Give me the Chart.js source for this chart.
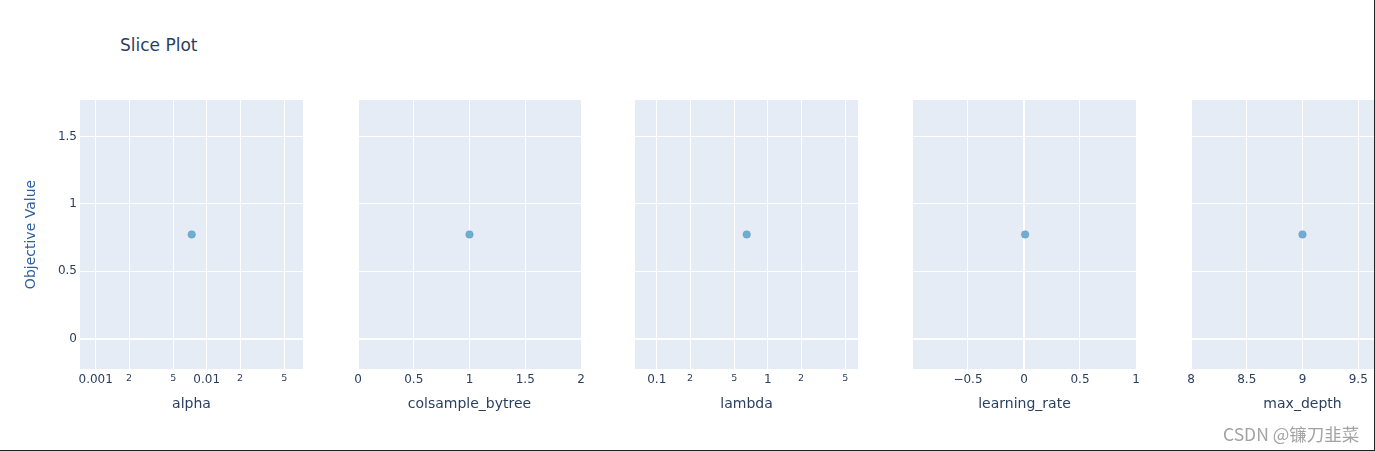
<!DOCTYPE html>
<html>
<head>
<meta charset="utf-8">
<script src="https://cdn.jsdelivr.net/npm/chart.js@4.4.1/dist/chart.umd.min.js"></script>
<style>
  html, body { margin: 0; padding: 0; background: #fff; overflow: hidden; }
  #page { position: relative; width: 1375px; height: 451px; overflow: hidden; background: #fff; }
  #page canvas { position: absolute; top: 90px; }
  #title { position: absolute; left: 120px; top: 35px; font-family: "DejaVu Sans"; font-size: 17px; line-height: 20px; color: #2a3f5f; white-space: nowrap; }
  #mark { position: absolute; left: 1223px; top: 423px; font-family: "Noto Sans CJK SC"; font-size: 17.5px; line-height: 22px; color: #a3a3a3; white-space: nowrap; }
  #frame { position: absolute; left: 0; top: 0; width: 1374px; height: 450px; border-right: 1px solid #222; border-bottom: 1px solid #222; pointer-events: none; }
</style>
</head>
<body>
<div id="page">
  <div id="title">Slice Plot</div>
  <canvas id="slice0"></canvas>
  <canvas id="slice1"></canvas>
  <canvas id="slice2"></canvas>
  <canvas id="slice3"></canvas>
  <canvas id="slice4"></canvas>
  <div id="mark">CSDN @镰刀韭菜</div>
  <div id="frame"></div>
</div>
<script>
// one trial, one point per parameter
const paramNames = ["alpha", "colsample_bytree", "lambda", "learning_rate", "max_depth"];
const paramValues = [0.00733, 1.0, 0.647, 0.01, 9];
const objectiveValue = 0.773;

const axisTypes = ["logarithmic", "linear", "logarithmic", "linear", "linear"];
const xMins = [0.000722, 0, 0.0637, -0.991, 8];
const xMaxs = [0.0738, 2, 6.51, 1.0, 10];

const xTickValues = [
  [0.001, 0.002, 0.005, 0.01, 0.02, 0.05],
  [0, 0.5, 1, 1.5, 2],
  [0.1, 0.2, 0.5, 1, 2, 5],
  [-0.5, 0, 0.5, 1],
  [8, 8.5, 9, 9.5, 10]
];
const xTickLabels = [
  ["0.001", "2", "5", "0.01", "2", "5"],
  ["0", "0.5", "1", "1.5", "2"],
  ["0.1", "2", "5", "1", "2", "5"],
  ["\u22120.5", "0", "0.5", "1"],
  ["8", "8.5", "9", "9.5", "10"]
];

const yTickValues = [0, 0.5, 1, 1.5];
const yTickLabels = ["0", "0.5", "1", "1.5"];
const yMin = -0.225;
const yMax = 1.77;

const FONT = "DejaVu Sans";
const TEXT_COLOR = "#2a3f5f";
const plotLefts = [80, 358, 635, 913, 1191];
const plotWidth = 223;

const plotBackground = {
  id: "plotBackground",
  beforeDraw(chart) {
    const { ctx, chartArea: a } = chart;
    ctx.save();
    ctx.fillStyle = "#e5ecf6";
    ctx.fillRect(a.left, a.top, a.right - a.left, a.bottom - a.top);
    ctx.restore();
  }
};

function isDecade(v) {
  const l = Math.log10(v);
  return Math.abs(l - Math.round(l)) < 1e-9;
}

function renderSlice(i) {
  const canvas = document.getElementById("slice" + i);
  const first = i === 0;
  const yWidth = first ? 80 : 0;
  const padLeft = first ? 0 : 20;
  const padRight = 20;

  canvas.width = padLeft + yWidth + plotWidth + padRight;
  canvas.height = 335;
  canvas.style.left = (plotLefts[i] - yWidth - padLeft) + "px";

  const isLog = axisTypes[i] === "logarithmic";

  new Chart(canvas, {
    type: "scatter",
    data: {
      datasets: [{
        data: [{ x: paramValues[i], y: objectiveValue }],
        backgroundColor: "#6baed6",
        borderColor: "rgba(128, 128, 128, 0.7)",
        borderWidth: 0.5,
        pointRadius: 3.8,
        pointHoverRadius: 3.8
      }]
    },
    options: {
      responsive: false,
      animation: false,
      devicePixelRatio: 1,
      layout: { padding: { top: 10, bottom: 0, left: padLeft, right: padRight } },
      plugins: {
        legend: { display: false },
        tooltip: { enabled: false }
      },
      scales: {
        x: {
          type: axisTypes[i],
          min: xMins[i],
          max: xMaxs[i],
          border: { display: false },
          grid: {
            color: "#ffffff",
            drawTicks: false,
            lineWidth: ctx => (!isLog && ctx.tick && ctx.tick.value === 0) ? 2 : 1
          },
          afterBuildTicks: scale => {
            scale.ticks = xTickValues[i].map(v => ({ value: v }));
          },
          afterFit: scale => {
            scale.height = 56;
            scale.paddingLeft = 0;
            scale.paddingRight = 0;
          },
          ticks: {
            autoSkip: false,
            maxRotation: 0,
            padding: 4,
            color: TEXT_COLOR,
            font: ctx => ({
              family: FONT,
              size: (isLog && ctx.tick && !isDecade(ctx.tick.value)) ? 9.5 : 12
            }),
            callback: (value, index) => xTickLabels[i][index]
          },
          title: {
            display: true,
            text: paramNames[i],
            color: TEXT_COLOR,
            font: { family: FONT, size: 14 },
            padding: { top: 0, bottom: 12 }
          }
        },
        y: {
          type: "linear",
          min: yMin,
          max: yMax,
          border: { display: false },
          grid: {
            color: "#ffffff",
            drawTicks: false,
            lineWidth: ctx => (ctx.tick && ctx.tick.value === 0) ? 2 : 1
          },
          afterBuildTicks: scale => {
            scale.ticks = yTickValues.map(v => ({ value: v }));
          },
          afterFit: scale => {
            scale.width = yWidth;
            scale.paddingTop = 0;
            scale.paddingBottom = 0;
          },
          ticks: {
            display: first,
            padding: 3,
            color: TEXT_COLOR,
            font: { family: FONT, size: 12 },
            callback: (value, index) => yTickLabels[index]
          },
          title: {
            display: first,
            text: "Objective Value",
            color: "#2e5e9e",
            font: { family: FONT, size: 14 },
            padding: { top: 22.6, bottom: 0 }
          }
        }
      }
    },
    plugins: [plotBackground]
  });
}

paramNames.forEach((name, i) => renderSlice(i));
</script>
</body>
</html>
